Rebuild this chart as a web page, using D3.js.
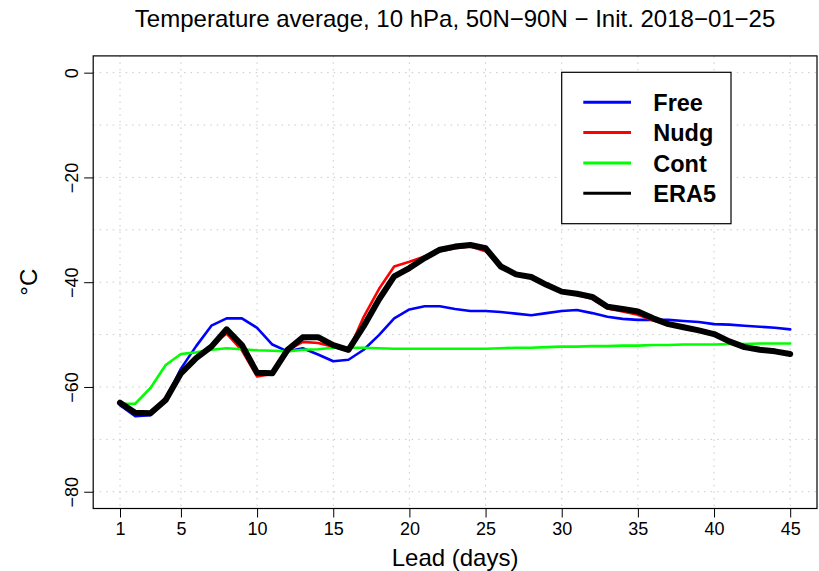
<!DOCTYPE html>
<meta charset="utf-8">
<style>
body { margin: 0; background: #fff; }
text { font-family: "Liberation Sans", Arial, sans-serif; fill: #000; }
.grid line { stroke: #c8c8c8; stroke-width: 1; stroke-dasharray: 1.5,5; }
.axis .tick line { stroke: #000; stroke-width: 1; }
.axis text { font-size: 18px; }
.axis path.domain { display: none; }
.series { fill: none; stroke-linejoin: round; stroke-linecap: round; }
</style>
<svg width="819" height="571"></svg>
<script src="https://d3js.org/d3.v7.min.js"></script>
<script>

// lead days 1..45
var days = d3.range(1, 46);

var free = [-63.5, -65.6, -65.4, -62.5, -56.5, -52.2, -48.3, -46.9, -46.9, -48.7,
            -51.9, -53.2, -52.6, -53.8, -55.1, -54.8, -52.9, -50.1, -46.9, -45.2,
            -44.6, -44.6, -45.1, -45.5, -45.5, -45.7, -46.0, -46.3, -45.9, -45.5,
            -45.3, -45.9, -46.6, -47.0, -47.2, -47.2, -47.2, -47.4, -47.6, -48.0,
            -48.1, -48.3, -48.5, -48.7, -49.0];

var nudg = [-63.2, -65.2, -65.2, -62.0, -57.0, -54.5, -52.0, -49.8, -53.0, -58.0,
            -57.5, -53.0, -51.4, -51.6, -52.3, -53.2, -46.6, -41.3, -37.0, -36.1,
            -35.1, -34.1, -33.5, -33.2, -34.1, -37.0, -38.6, -39.1, -40.6, -41.9,
            -42.4, -43.2, -45.0, -45.6, -46.2, -47.3, -48.1, -48.7, -49.3, -50.0,
            -51.4, -52.4, -52.9, -53.2, -53.6];

var cont = [-63.2, -63.2, -60.2, -55.8, -53.7, -53.4, -52.9, -52.6, -52.8, -53.0,
            -53.1, -53.2, -52.9, -52.8, -52.5, -52.5, -52.5, -52.6, -52.7, -52.7,
            -52.7, -52.7, -52.7, -52.7, -52.7, -52.6, -52.5, -52.5, -52.4, -52.3,
            -52.3, -52.2, -52.2, -52.1, -52.1, -52.0, -52.0, -51.9, -51.9, -51.9,
            -51.8, -51.8, -51.7, -51.7, -51.7];

var era5 = [-63.0, -64.9, -65.0, -62.5, -57.4, -54.5, -52.3, -49.0, -52.0, -57.3,
            -57.4, -52.9, -50.5, -50.5, -52.0, -52.9, -48.4, -43.3, -38.9, -37.3,
            -35.4, -33.8, -33.2, -32.9, -33.5, -37.0, -38.5, -39.0, -40.5, -41.8,
            -42.2, -42.8, -44.7, -45.1, -45.6, -46.9, -48.0, -48.6, -49.2, -49.9,
            -51.3, -52.4, -52.9, -53.2, -53.7];

var xTicks = [1, 5, 10, 15, 20, 25, 30, 35, 40, 45];
var yTicks = [0, -20, -40, -60, -80];
var yGrid = d3.range(-80, 1, 10);

var seriesNames = ["Free", "Nudg", "Cont", "ERA5"];
var seriesColors = ["#0000ff", "#ff0000", "#00ff00", "#000000"];
var seriesWidths = [2.6, 2.6, 2.6, 6];
var seriesData = [free, nudg, cont, era5];

var svg = d3.select("svg");

var pLeft = 93.2, pRight = 817, pTop = 55.9, pBottom = 508.5;

// R style 4% padding of the ranges
var x = d3.scaleLinear().domain([1 - 44 * 0.04, 45 + 44 * 0.04]).range([pLeft, pRight]);
var y = d3.scaleLinear().domain([-80 - 3.2, 0 + 3.2]).range([pBottom, pTop]);

// grid
var grid = svg.append("g").attr("class", "grid");
grid.selectAll(".gx").data(xTicks).enter().append("line")
    .attr("x1", function(d) { return x(d); })
    .attr("x2", function(d) { return x(d); })
    .attr("y1", pTop).attr("y2", pBottom);
grid.selectAll(".gy").data(yGrid).enter().append("line")
    .attr("y1", function(d) { return y(d); })
    .attr("y2", function(d) { return y(d); })
    .attr("x1", pLeft).attr("x2", pRight);

// lines
var line = d3.line()
    .x(function(d, i) { return x(days[i]); })
    .y(function(d) { return y(d); });

svg.selectAll(".series").data(seriesData).enter().append("path")
    .attr("class", "series")
    .attr("d", line)
    .attr("stroke", function(d, i) { return seriesColors[i]; })
    .attr("stroke-width", function(d, i) { return seriesWidths[i]; });

// axes
svg.append("g").attr("class", "axis")
    .attr("transform", "translate(0," + pBottom + ")")
    .call(d3.axisBottom(x).tickValues(xTicks).tickSize(9).tickPadding(5));

var ya = svg.append("g").attr("class", "axis")
    .attr("transform", "translate(" + pLeft + ",0)")
    .call(d3.axisLeft(y).tickValues(yTicks).tickSize(9));
ya.selectAll("text")
    .attr("x", null).attr("dy", null)
    .attr("text-anchor", "middle")
    .attr("transform", "translate(-15.5,0) rotate(-90)");

// box
svg.append("rect")
    .attr("x", pLeft).attr("y", pTop)
    .attr("width", pRight - pLeft).attr("height", pBottom - pTop)
    .attr("fill", "none").attr("stroke", "#000").attr("stroke-width", 1.2);

// titles
svg.append("text")
    .attr("x", (pLeft + pRight) / 2).attr("y", 27)
    .attr("text-anchor", "middle")
    .style("font-size", "24px")
    .text("Temperature average, 10 hPa, 50N\u221290N \u2212 Init. 2018\u221201\u221225");

svg.append("text")
    .attr("x", (pLeft + pRight) / 2).attr("y", 566)
    .attr("text-anchor", "middle")
    .style("font-size", "24px")
    .text("Lead (days)");

svg.append("text")
    .attr("transform", "translate(37," + ((pTop + pBottom) / 2) + ") rotate(-90)")
    .attr("text-anchor", "middle")
    .style("font-size", "24px")
    .text("\u00b0C");

// legend
var lg = svg.append("g").attr("transform", "translate(561.7,72.3)");
lg.append("rect")
    .attr("width", 169.3).attr("height", 151.4)
    .attr("fill", "#fff").attr("stroke", "#000").attr("stroke-width", 1.2);

var item = lg.selectAll(".item").data(seriesNames).enter().append("g")
    .attr("transform", function(d, i) { return "translate(0," + (30 + i * 30.3) + ")"; });
item.append("line")
    .attr("x1", 21.6).attr("x2", 69.3)
    .attr("stroke", function(d, i) { return seriesColors[i]; })
    .attr("stroke-width", 3);
item.append("text")
    .attr("x", 91.6).attr("y", 8.8)
    .style("font-size", "23.5px").style("font-weight", "bold")
    .text(function(d) { return d; });

</script>
